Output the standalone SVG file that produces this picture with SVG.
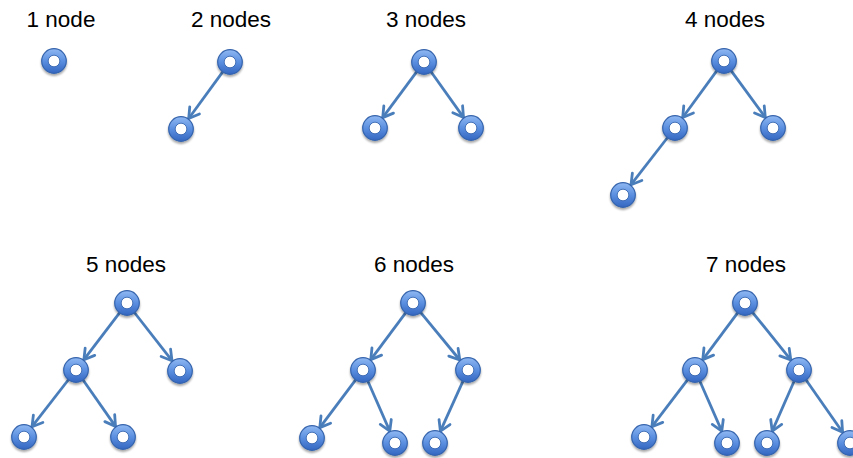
<svg xmlns="http://www.w3.org/2000/svg" xmlns:xlink="http://www.w3.org/1999/xlink" width="853" height="458" viewBox="0 0 853 458">
<style>
.lbl{font-family:"Liberation Sans",Arial,sans-serif;font-size:22.5px;fill:#000;text-anchor:middle}
.edge{stroke:#4a7ebb;stroke-width:2.8;fill:none;marker-end:url(#arr)}
.ring{fill:url(#g);stroke:#3564ad;stroke-width:1.2}
.hole{fill:#fff;stroke:#2f5ea8;stroke-width:0.8}
</style>
<defs>
<linearGradient id="g" x1="0" y1="0" x2="0" y2="1">
<stop offset="0" stop-color="#8fb8f2"/>
<stop offset="0.5" stop-color="#5b8fe0"/>
<stop offset="1" stop-color="#3466c0"/>
</linearGradient>
<filter id="sh" x="-30%" y="-30%" width="160%" height="170%">
<feGaussianBlur in="SourceAlpha" stdDeviation="1.2"/>
<feOffset dy="1.5" result="b"/>
<feComponentTransfer><feFuncA type="linear" slope="0.35"/></feComponentTransfer>
<feMerge><feMergeNode/><feMergeNode in="SourceGraphic"/></feMerge>
</filter>
<marker id="arr" markerUnits="userSpaceOnUse" markerWidth="16" markerHeight="16" viewBox="-12 -8 14 16" refX="0" refY="0" orient="auto">
<path d="M-10,-6 L0,0 L-10,6" fill="none" stroke="#4a7ebb" stroke-width="2.8" stroke-linecap="round" stroke-linejoin="round"/>
</marker>
<g id="nd" filter="url(#sh)">
<circle class="ring" r="12.3"/>
<circle class="hole" r="5.8"/>
</g>
</defs>
<g id="labels">
<text class="lbl" x="61" y="27">1 node</text>
<text class="lbl" x="231" y="27">2 nodes</text>
<text class="lbl" x="426" y="27">3 nodes</text>
<text class="lbl" x="725" y="27">4 nodes</text>
<text class="lbl" x="126" y="272">5 nodes</text>
<text class="lbl" x="414" y="272">6 nodes</text>
<text class="lbl" x="746" y="272">7 nodes</text>
</g>
<g id="connectors">
<line class="edge" x1="222.9" y1="71.7" x2="188.7" y2="118.5"/>
<line class="edge" x1="416.8" y1="71.6" x2="382.7" y2="117.6"/>
<line class="edge" x1="431.0" y1="71.8" x2="463.5" y2="117.4"/>
<line class="edge" x1="716.9" y1="70.7" x2="682.7" y2="117.5"/>
<line class="edge" x1="731.1" y1="70.7" x2="765.3" y2="117.5"/>
<line class="edge" x1="667.6" y1="137.5" x2="631.0" y2="184.7"/>
<line class="edge" x1="119.7" y1="312.6" x2="83.9" y2="359.7"/>
<line class="edge" x1="134.4" y1="312.5" x2="172.0" y2="360.7"/>
<line class="edge" x1="68.6" y1="379.5" x2="32.0" y2="426.7"/>
<line class="edge" x1="82.9" y1="379.8" x2="115.5" y2="426.4"/>
<line class="edge" x1="405.8" y1="312.6" x2="370.8" y2="359.6"/>
<line class="edge" x1="420.6" y1="312.3" x2="459.8" y2="360.0"/>
<line class="edge" x1="355.8" y1="379.6" x2="319.8" y2="427.6"/>
<line class="edge" x1="367.8" y1="381.0" x2="389.8" y2="431.1"/>
<line class="edge" x1="463.1" y1="380.9" x2="440.4" y2="431.2"/>
<line class="edge" x1="737.8" y1="312.6" x2="702.8" y2="359.6"/>
<line class="edge" x1="752.5" y1="312.3" x2="790.8" y2="359.9"/>
<line class="edge" x1="687.7" y1="379.6" x2="651.9" y2="426.7"/>
<line class="edge" x1="699.8" y1="381.0" x2="721.8" y2="431.1"/>
<line class="edge" x1="794.2" y1="381.0" x2="772.2" y2="431.1"/>
<line class="edge" x1="805.9" y1="379.8" x2="842.6" y2="432.3"/>
</g>
<g id="t1n1"><use xlink:href="#nd" x="54" y="61"/></g>
<g id="t2n1"><use xlink:href="#nd" x="230" y="62"/></g>
<g id="t2n2"><use xlink:href="#nd" x="181" y="129"/></g>
<g id="t3n1"><use xlink:href="#nd" x="424" y="62"/></g>
<g id="t3n2"><use xlink:href="#nd" x="375" y="128"/></g>
<g id="t3n3"><use xlink:href="#nd" x="471" y="128"/></g>
<g id="t4n1"><use xlink:href="#nd" x="724" y="61"/></g>
<g id="t4n2"><use xlink:href="#nd" x="675" y="128"/></g>
<g id="t4n3"><use xlink:href="#nd" x="773" y="128"/></g>
<g id="t4n4"><use xlink:href="#nd" x="623" y="195"/></g>
<g id="t5n1"><use xlink:href="#nd" x="127" y="303"/></g>
<g id="t5n2"><use xlink:href="#nd" x="76" y="370"/></g>
<g id="t5n3"><use xlink:href="#nd" x="180" y="371"/></g>
<g id="t5n4"><use xlink:href="#nd" x="24" y="437"/></g>
<g id="t5n5"><use xlink:href="#nd" x="123" y="437"/></g>
<g id="t6n1"><use xlink:href="#nd" x="413" y="303"/></g>
<g id="t6n2"><use xlink:href="#nd" x="363" y="370"/></g>
<g id="t6n3"><use xlink:href="#nd" x="468" y="370"/></g>
<g id="t6n4"><use xlink:href="#nd" x="312" y="438"/></g>
<g id="t6n5"><use xlink:href="#nd" x="395" y="443"/></g>
<g id="t6n6"><use xlink:href="#nd" x="435" y="443"/></g>
<g id="t7n1"><use xlink:href="#nd" x="745" y="303"/></g>
<g id="t7n2"><use xlink:href="#nd" x="695" y="370"/></g>
<g id="t7n3"><use xlink:href="#nd" x="799" y="370"/></g>
<g id="t7n4"><use xlink:href="#nd" x="644" y="437"/></g>
<g id="t7n5"><use xlink:href="#nd" x="727" y="443"/></g>
<g id="t7n6"><use xlink:href="#nd" x="767" y="443"/></g>
<g id="t7n7"><use xlink:href="#nd" x="850" y="443"/></g>
</svg>
